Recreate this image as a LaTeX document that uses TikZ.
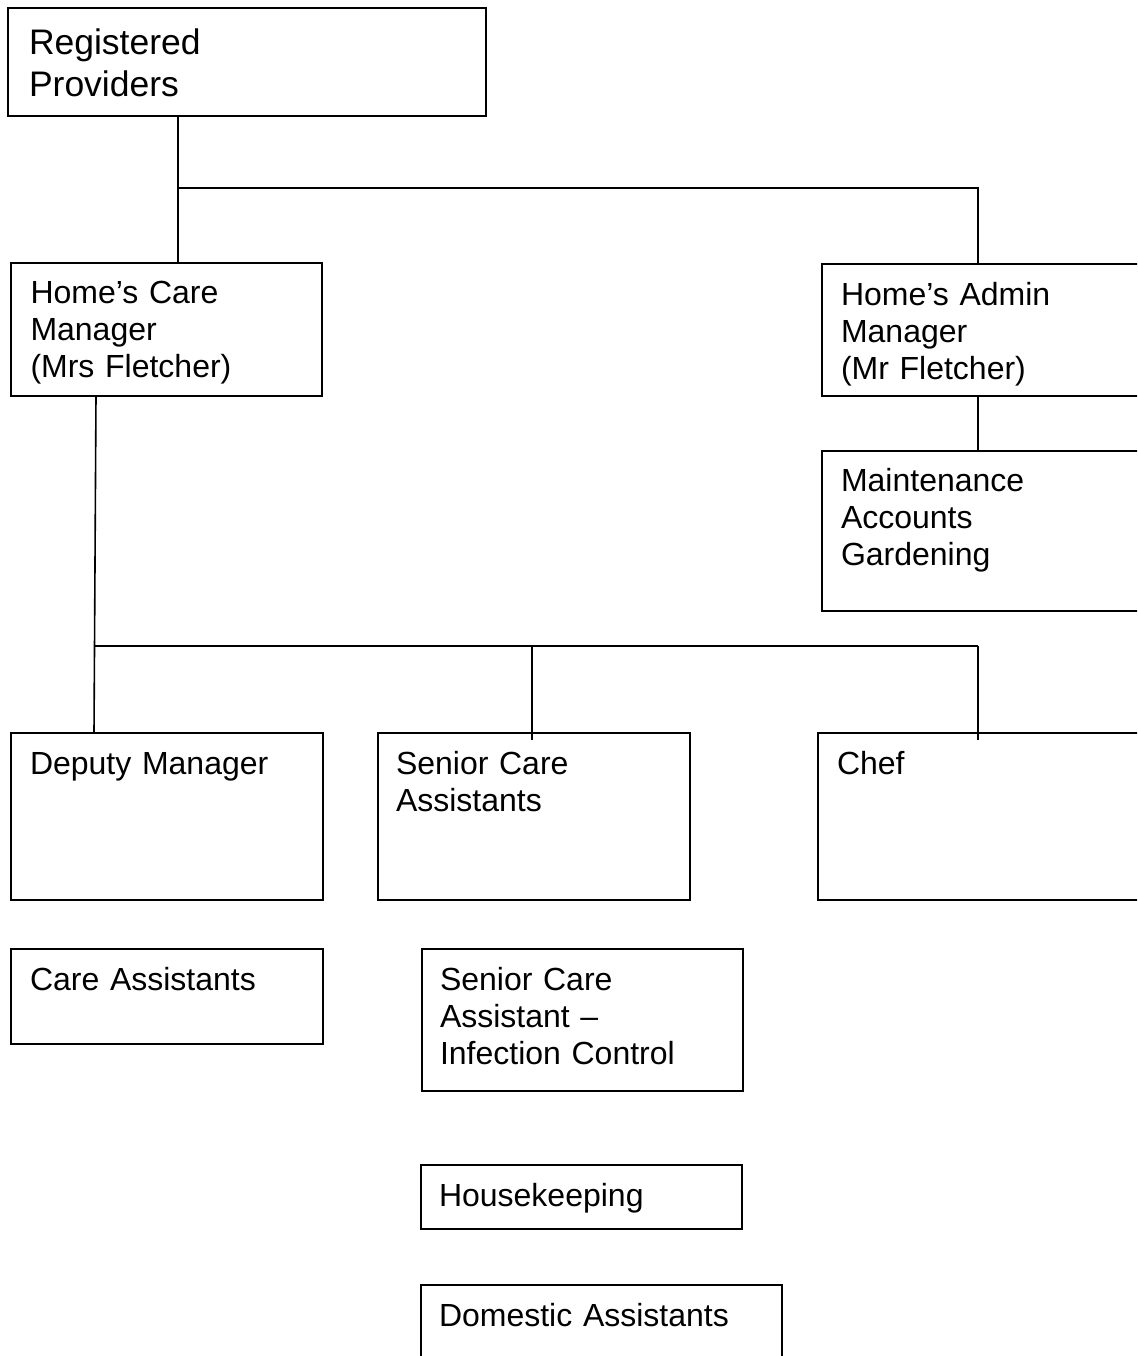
\documentclass[tikz,border=0pt]{standalone}
\usepackage{fontspec}
\setmainfont{Liberation Sans}
\usetikzlibrary{calc}
\tikzset{
  box/.style={draw=black, line width=1.8pt, rectangle, inner sep=0pt, outer sep=0pt, anchor=north west},
  lbl/.style={inner sep=0pt, outer sep=0pt, anchor=base west, text width=420pt, align=left, font=\fontsize{32}{37}\selectfont},
  biglbl/.style={lbl, font=\fontsize{35.5}{41.5}\selectfont},
  conn/.style={draw=black, line width=1.6pt},
  busline/.style={draw=black, line width=2.4pt},
}
\begin{document}
\begin{tikzpicture}[x=1pt, y=-1pt]
\clip (0,0) rectangle (1137,1356);
\fill[white] (0,0) rectangle (1137,1356);
% boxes
\node[box, minimum width=478pt, minimum height=108pt] (rp) at (8,8) {};
\node[box, minimum width=311pt, minimum height=133pt] (cm) at (11,263) {};
\node[box, minimum width=340pt, minimum height=132pt] (am) at (822,264) {};
\node[box, minimum width=340pt, minimum height=160pt] (mt) at (822,451) {};
\node[box, minimum width=312pt, minimum height=167pt] (dm) at (11,733) {};
\node[box, minimum width=312pt, minimum height=167pt] (sca) at (378,733) {};
\node[box, minimum width=340pt, minimum height=167pt] (chef) at (818,733) {};
\node[box, minimum width=312pt, minimum height=95pt] (ca) at (11,949) {};
\node[box, minimum width=321pt, minimum height=142pt] (sic) at (422,949) {};
\node[box, minimum width=321pt, minimum height=64pt] (hk) at (421,1165) {};
\node[box, minimum width=361pt, minimum height=130pt] (da) at (421,1285) {};
% labels
\node[biglbl] (rpT) at (29,55) {Registered\\Providers};
\node[lbl] (cmT) at (30.5,303) {Home’s Care\\Manager\\(Mrs Fletcher)};
\node[lbl] (amT) at (841,305) {Home’s Admin\\Manager\\(Mr Fletcher)};
\node[lbl] (mtT) at (841,491) {Maintenance\\Accounts\\Gardening};
\node[lbl] (dmT) at (30,774) {Deputy Manager};
\node[lbl] (scaT) at (396,774) {Senior Care\\Assistants};
\node[lbl] (chefT) at (837,774) {Chef};
\node[lbl] (caT) at (30,990) {Care Assistants};
\node[lbl] (sicT) at (440,990) {Senior Care\\Assistant –\\Infection Control};
\node[lbl] (hkT) at (439,1206) {Housekeeping};
\node[lbl] (daT) at (439,1326) {Domestic Assistants};
% connectors
\coordinate (j1) at (178,188);
\coordinate (j2) at (978,188);
\draw[conn] (rp.south -| j1) -- (cm.north -| j1);
\draw[conn] (j1) -- (j2) -- (am.north -| j2);
\draw[conn] (am.south -| j2) -- (mt.north -| j2);
\coordinate (c1) at (96,396);
\coordinate (c2) at (94,733);
\coordinate (k1) at (95,646);
\coordinate (k2) at (532,646);
\coordinate (k3) at (978,646);
\coordinate (e2) at (532,740);
\coordinate (e3) at (978,740);
\draw[conn] (c1) -- (c2);
\draw[busline] (k1) -- (k3);
\draw[conn] (k2) -- (e2);
\draw[conn] (k3) -- (e3);
\end{tikzpicture}
\end{document}
